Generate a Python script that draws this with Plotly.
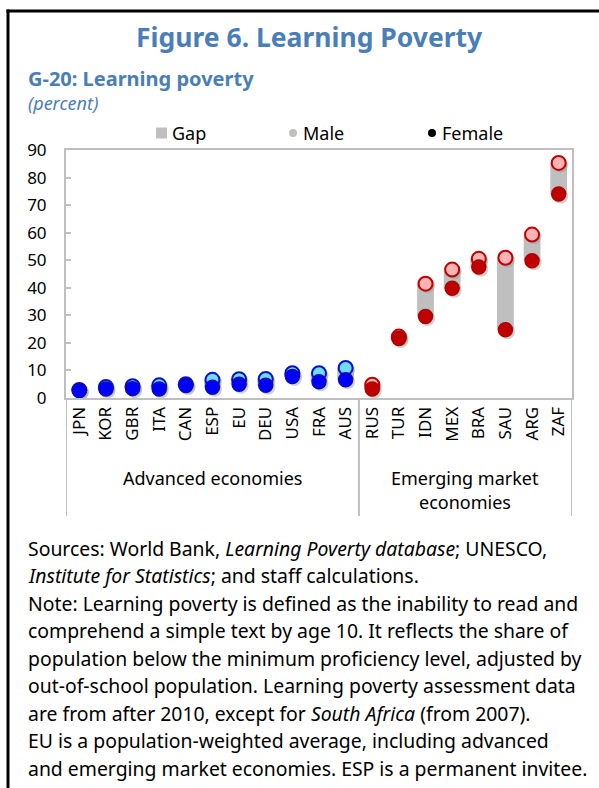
import plotly.graph_objects as go

# ---------------- data ----------------
countries = ["JPN", "KOR", "GBR", "ITA", "CAN", "ESP", "EU", "DEU", "USA", "FRA", "AUS",
             "RUS", "TUR", "IDN", "MEX", "BRA", "SAU", "ARG", "ZAF"]
groups = ["Advanced economies"] * 11 + ["Emerging market economies"] * 8
male = [2.9, 4.0, 4.3, 4.6, 5.0, 6.6, 6.8, 6.9, 9.0, 9.0, 10.9,
        4.8, 22.3, 41.5, 46.6, 50.5, 50.9, 59.3, 85.3]
female = [2.7, 3.3, 3.4, 3.3, 4.5, 3.9, 5.0, 4.6, 7.8, 5.9, 6.6,
          3.3, 21.6, 29.6, 39.8, 47.5, 24.8, 49.8, 74.0]
yticks = [0, 10, 20, 30, 40, 50, 60, 70, 80, 90]

# ---------------- layout constants (page pixel coords) ----------------
W, H = 599, 788
L, R, T, B = 66, 572, 150, 398
FONT = "Noto Sans"
YMAX = 90


def px(xp):
    return (xp - L) / (R - L)


def py(yp):
    return (B - yp) / (B - T)


adv = [g == "Advanced economies" for g in groups]
male_fill = ["#6EDCF8" if a else "#FFB3B3" for a in adv]
male_line = ["#0A10C8" if a else "#C00000" for a in adv]
fem_fill = ["#0000FF" if a else "#C00000" for a in adv]
fem_line = ["#0A0AB4" if a else "#B00000" for a in adv]

lo = [min(m, f) for m, f in zip(male, female)]
gap = [abs(m - f) for m, f in zip(male, female)]
n = len(countries)

# shadow shift of ~2 px expressed via shifted axis ranges
dx = 2.0 / ((R - L) / n)
dy = 2.0 / ((B - T) / YMAX)

fig = go.Figure()
fig.add_trace(go.Bar(x=countries, y=gap, base=lo, width=0.63,
                     marker=dict(color="#BFBFBF", line=dict(width=0)),
                     name="Gap", showlegend=False, hoverinfo="skip"))
# soft shadows
for vals in (male, female):
    fig.add_trace(go.Scatter(x=countries, y=vals, mode="markers", showlegend=False, hoverinfo="skip",
                             xaxis="x2", yaxis="y2",
                             marker=dict(size=15, color="rgba(150,150,150,0.45)", line=dict(width=0))))
fig.add_trace(go.Scatter(x=countries, y=male, mode="markers", name="Male", showlegend=False,
                         xaxis="x3", yaxis="y3",
                         marker=dict(size=14, color=male_fill, line=dict(color=male_line, width=2))))
fig.add_trace(go.Scatter(x=countries, y=female, mode="markers", name="Female", showlegend=False,
                         xaxis="x3", yaxis="y3",
                         marker=dict(size=14, color=fem_fill, line=dict(color=fem_line, width=1.5))))

ann = []
shapes = []

# titles
ann.append(dict(text="<b>Figure 6. Learning Poverty</b>", x=px(309), y=py(37), xref="paper", yref="paper",
                xanchor="center", yanchor="middle", showarrow=False,
                font=dict(family=FONT, size=26.5, color="#4A7EB8")))
ann.append(dict(text="<b>G-20: Learning poverty</b>", x=px(26), y=py(78), xref="paper", yref="paper",
                xanchor="left", yanchor="middle", showarrow=False,
                font=dict(family=FONT, size=20, color="#4A7EB8")))
ann.append(dict(text="<i>(percent)</i>", x=px(26), y=py(103), xref="paper", yref="paper",
                xanchor="left", yanchor="middle", showarrow=False,
                font=dict(family=FONT, size=18, color="#4A7EB8")))

# legend (manual)
leg_y = 133
shapes.append(dict(type="rect", xref="paper", yref="paper", x0=px(156), x1=px(167),
                   y0=py(leg_y + 5.5), y1=py(leg_y - 5.5), fillcolor="#BFBFBF", line=dict(width=0)))
shapes.append(dict(type="circle", xref="paper", yref="paper", x0=px(289), x1=px(297),
                   y0=py(leg_y + 4), y1=py(leg_y - 4), fillcolor="#BFBFBF", line=dict(width=0)))
shapes.append(dict(type="circle", xref="paper", yref="paper", x0=px(428), x1=px(436),
                   y0=py(leg_y + 4), y1=py(leg_y - 4), fillcolor="#000000", line=dict(width=0)))
for label, xx in [("Gap", 170), ("Male", 301), ("Female", 440)]:
    ann.append(dict(text=label, x=px(xx), y=py(leg_y), xref="paper", yref="paper",
                    xanchor="left", yanchor="middle", showarrow=False,
                    font=dict(family=FONT, size=18, color="#000000")))

# group separators & labels
n_adv = sum(adv)
for xv in [-0.5, n_adv - 0.5, n - 0.5]:
    shapes.append(dict(type="line", xref="x", yref="paper", x0=xv, x1=xv,
                       y0=0, y1=py(516), line=dict(color="#BFBFBF", width=2)))
ann.append(dict(text="Advanced economies", x=(n_adv - 1) / 2, y=py(478), xref="x", yref="paper",
                xanchor="center", yanchor="middle", showarrow=False,
                font=dict(family=FONT, size=18, color="#000000")))
ann.append(dict(text="Emerging market", x=(n_adv + n - 1) / 2, y=py(478), xref="x", yref="paper",
                xanchor="center", yanchor="middle", showarrow=False,
                font=dict(family=FONT, size=18, color="#000000")))
ann.append(dict(text="economies", x=(n_adv + n - 1) / 2, y=py(502), xref="x", yref="paper",
                xanchor="center", yanchor="middle", showarrow=False,
                font=dict(family=FONT, size=18, color="#000000")))

# notes
notes = [
    "Sources: World Bank, <i>Learning Poverty database</i>; UNESCO,",
    "<i>Institute for Statistics</i>; and staff calculations.",
    "Note: Learning poverty is defined as the inability to read and",
    "comprehend a simple text by age 10. It reflects the share of",
    "population below the minimum proficiency level, adjusted by",
    "out-of-school population. Learning poverty assessment data",
    "are from after 2010, except for <i>South Africa</i> (from 2007).",
    "EU is a population-weighted average, including advanced",
    "and emerging market economies. ESP is a permanent invitee.",
]
for i, line in enumerate(notes):
    ann.append(dict(text=line, x=px(26), y=py(548 + 27.5 * i), xref="paper", yref="paper",
                    xanchor="left", yanchor="middle", showarrow=False,
                    font=dict(family=FONT, size=19.4, color="#000000")))

# outer frame (left and top)
shapes.append(dict(type="line", xref="paper", yref="paper", x0=px(8), x1=px(8), y0=py(9.5), y1=py(800),
                   line=dict(color="#000000", width=3)))
shapes.append(dict(type="line", xref="paper", yref="paper", x0=px(6.5), x1=px(610), y0=py(11), y1=py(11),
                   line=dict(color="#000000", width=3)))

hidden = dict(visible=False, showgrid=False, zeroline=False, fixedrange=True)
fig.update_layout(
    width=W, height=H,
    margin=dict(l=L, r=W - R, t=T, b=H - B),
    paper_bgcolor="white", plot_bgcolor="white",
    font=dict(family=FONT, size=16, color="#000000"),
    showlegend=False, barmode="overlay",
    annotations=ann, shapes=shapes,
    xaxis2=dict(overlaying="x", type="category", categoryorder="array", categoryarray=countries,
                range=[-0.5 - dx, n - 0.5 - dx], **hidden),
    yaxis2=dict(overlaying="y", range=[dy, YMAX + dy], **hidden),
    xaxis3=dict(overlaying="x", type="category", categoryorder="array", categoryarray=countries,
                range=[-0.5, n - 0.5], **hidden),
    yaxis3=dict(overlaying="y", range=[0, YMAX], **hidden),
    xaxis=dict(type="category", categoryorder="array", categoryarray=countries,
               range=[-0.5, n - 0.5], tickangle=-90,
               showline=True, linecolor="#BFBFBF", linewidth=2, mirror=True,
               ticks="", showgrid=False, zeroline=False,
               tickfont=dict(family=FONT, size=17, color="#000000")),
    yaxis=dict(range=[0, YMAX], tickvals=yticks, ticktext=[str(v) for v in yticks],
               showline=True, linecolor="#BFBFBF", linewidth=2, mirror=True,
               ticks="inside", ticklen=5, tickcolor="#BFBFBF", tickwidth=2,
               showgrid=False, zeroline=False, ticklabelstandoff=14,
               tickfont=dict(family=FONT, size=17, color="#000000")),
)

fig.write_html("out.html", config={"displayModeBar": False},
               post_script="document.body.style.margin='0';document.body.style.overflow='hidden';")
